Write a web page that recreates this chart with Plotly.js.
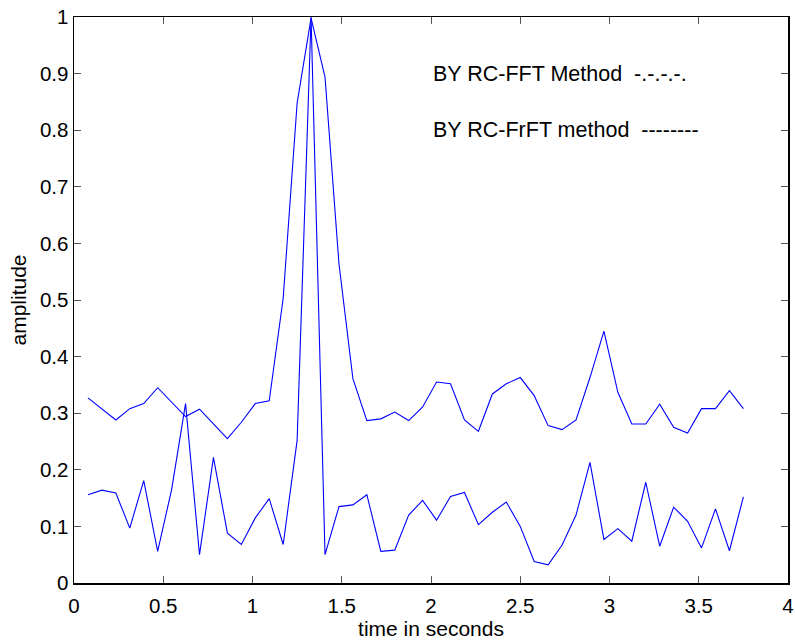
<!DOCTYPE html>
<html>
<head>
<meta charset="utf-8">
<script src="https://cdn.plot.ly/plotly-3.0.1.min.js"></script>
<style>html,body{margin:0;padding:0;background:#fff;}#chart{width:795px;height:642px;}</style>
</head>
<body>
<div id="chart"></div>
<script>
// sample index k = 1..48, time step 0.078125 s
const sampleIndex = [1,2,3,4,5,6,7,8,9,10,11,12,13,14,15,16,17,18,19,20,21,22,23,24,25,26,27,28,29,30,31,32,33,34,35,36,37,38,39,40,41,42,43,44,45,46,47,48];
const timeStep = 0.078125;
const timeSeconds = sampleIndex.map(k => k * timeStep);

// upper curve (RC-FFT method)
const fftAmplitude = [0.327,0.307,0.288,0.308,0.317,0.345,0.320,0.294,0.307,0.281,0.255,0.284,0.317,0.322,0.503,0.848,0.998,0.894,0.564,0.361,0.287,0.290,0.302,0.287,0.311,0.355,0.352,0.288,0.268,0.334,0.352,0.363,0.331,0.278,0.271,0.288,0.363,0.445,0.337,0.281,0.281,0.316,0.275,0.265,0.308,0.308,0.340,0.308];

// lower curve (RC-FrFT method)
const frftAmplitude = [0.156,0.164,0.159,0.097,0.181,0.056,0.165,0.317,0.050,0.222,0.088,0.068,0.115,0.149,0.068,0.252,1.000,0.050,0.135,0.138,0.156,0.056,0.058,0.120,0.146,0.111,0.153,0.160,0.103,0.125,0.143,0.100,0.038,0.032,0.067,0.120,0.213,0.077,0.096,0.074,0.178,0.065,0.134,0.109,0.062,0.131,0.057,0.152];

const xTicks = [0,0.5,1,1.5,2,2.5,3,3.5,4];
const yTicks = [0,0.1,0.2,0.3,0.4,0.5,0.6,0.7,0.8,0.9,1];
const notes = ["BY RC-FFT Method  -.-.-.-.", "BY RC-FrFT method  --------"];

const family = "Liberation Sans, Arial, sans-serif";
const tickFont = {family: family, size: 20.5, color: "#000"};
const titleFont = {family: family, size: 21, color: "#000"};
const noteFont = {family: family, size: 21.5, color: "#000"};

const traces = [
  {x: timeSeconds, y: fftAmplitude, mode: "lines", line: {color: "#0000ff", width: 1.1}, hoverinfo: "skip"},
  {x: timeSeconds, y: frftAmplitude, mode: "lines", line: {color: "#0000ff", width: 1.1}, hoverinfo: "skip"}
];

const axisCommon = {
  showgrid: false, zeroline: false, showline: true, linecolor: "#000", linewidth: 1.5,
  mirror: "ticks", ticks: "inside", ticklen: 7, tickcolor: "#555", tickwidth: 1,
  tickfont: tickFont
};

const layout = {
  width: 795, height: 642,
  margin: {l: 74, r: 7, t: 17, b: 59},
  paper_bgcolor: "#fff", plot_bgcolor: "#fff",
  showlegend: false,
  font: titleFont,
  xaxis: Object.assign({}, axisCommon, {
    range: [0, 4], tickvals: xTicks, ticktext: xTicks.map(String),
    ticklabelstandoff: 4,
    title: {text: "time in seconds", font: titleFont, standoff: 0}
  }),
  yaxis: Object.assign({}, axisCommon, {
    range: [0, 1], tickvals: yTicks, ticktext: yTicks.map(String),
    ticklabelstandoff: 0,
    title: {text: "amplitude", font: titleFont, standoff: 7}
  }),
  annotations: notes.map((t, i) => ({
    x: 2.0, y: 0.9 - i * 0.1, xref: "x", yref: "y", text: t, showarrow: false,
    xanchor: "left", yanchor: "middle", font: noteFont
  }))
};

Plotly.newPlot("chart", traces, layout, {displayModeBar: false, staticPlot: true});
</script>
</body>
</html>
